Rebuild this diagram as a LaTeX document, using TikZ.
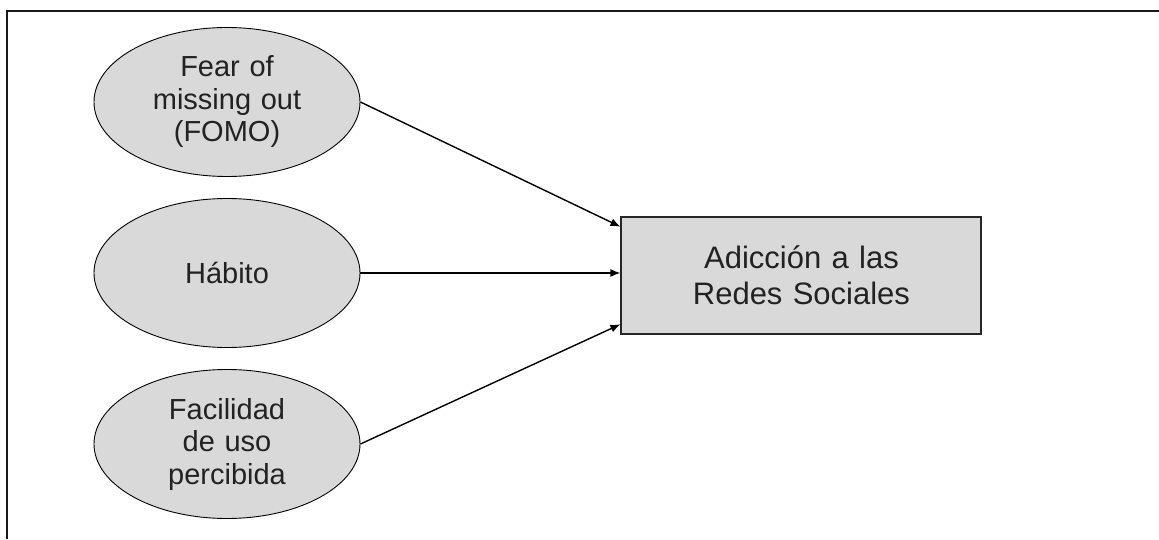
\documentclass[tikz,border=0pt]{standalone}
\usepackage{fontspec}
\setmainfont{Liberation Sans}
\usepackage{tikz}
\usetikzlibrary{shapes, arrows.meta, positioning, calc}
\definecolor{boxgray}{HTML}{D9D9D9}
\definecolor{inkgray}{HTML}{222222}
\tikzstyle{line} = [draw, -{Latex[length=10pt,width=8pt]}, line width=1.4pt]
\tikzstyle{factor} = [ellipse, draw, fill=boxgray, line width=0.9pt,
  minimum width=266pt, minimum height=149pt, inner sep=0pt,
  text width=160pt, text centered, text=inkgray,
  font=\fontsize{29}{32.5}\selectfont]
\tikzstyle{outcome} = [rectangle, draw=black!85, fill=boxgray, line width=2pt,
  minimum width=360pt, minimum height=117pt, inner sep=0pt,
  text width=300pt, text centered, text=inkgray,
  font=\fontsize{31}{36}\selectfont]
\tikzstyle{frame} = [draw=black!90, line width=2.2pt]

\begin{document}
\begin{tikzpicture}[x=1pt, y=1pt, node distance=171pt]
    \useasboundingbox (0,0) rectangle (1159,539);
    \draw [frame] (7,0) -- (7,528) -- (1159,528);

    \node [factor] (fomo) at (227,437) {Fear of\\ missing out\\ (FOMO)};
    \node [factor, below of=fomo] (habito) {H\'abito};
    \node [factor, below of=habito] (facilidad) {Facilidad\\ de uso\\ percibida};

    \node [outcome, right=260pt of habito, yshift=-2.5pt] (adiccion) {Adicci\'on a las\\ Redes Sociales};

    \path [line] (fomo.east) -- ($(adiccion.west)!0.82!(adiccion.north west)$);
    \path [line] (habito.east) -- (adiccion.west |- habito.east);
    \path [line] (facilidad.east) -- ($(adiccion.west)!0.82!(adiccion.south west)$);

\end{tikzpicture}
\end{document}
